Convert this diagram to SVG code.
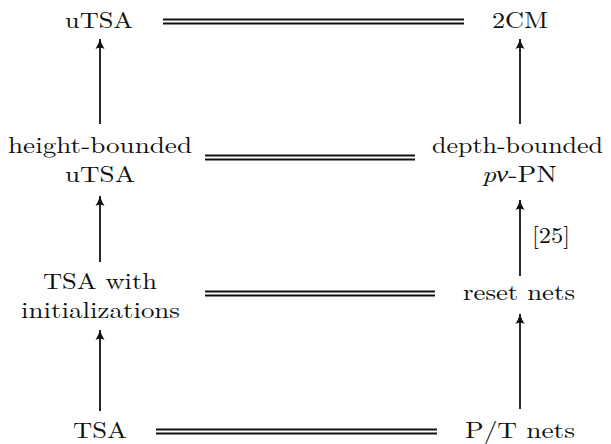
<svg xmlns="http://www.w3.org/2000/svg" width="611" height="444" viewBox="0 0 611 444">
<style>
.t{font-size:22.5px;fill:#111;text-anchor:middle}
.eq line{stroke:#111;stroke-width:1.8}
.arr line{stroke:#111;stroke-width:1.8;marker-end:url(#ah)}
</style>
<defs>
<marker id="ah" markerUnits="userSpaceOnUse" markerWidth="14" markerHeight="12" viewBox="-11 -6 12 12" refX="0" refY="0" orient="auto">
<path d="M0 0 Q-5 -1.5 -10 -4.5 Q-7.5 0 -10 4.5 Q-5 1.5 0 0 Z" fill="#111"/>
</marker>
</defs>
<g id="uTSA"><text class="t" font-family="Latin Modern Roman, Liberation Serif, serif" x="99" y="28" textLength="68" lengthAdjust="spacingAndGlyphs">uTSA</text></g>
<g id="2CM"><text class="t" font-family="Latin Modern Roman, Liberation Serif, serif" x="520" y="28" textLength="56" lengthAdjust="spacingAndGlyphs">2CM</text></g>
<g id="hb-uTSA"><text class="t" font-family="Latin Modern Roman, Liberation Serif, serif" x="100" y="153" textLength="184" lengthAdjust="spacingAndGlyphs">height-bounded</text><text class="t" font-family="Latin Modern Roman, Liberation Serif, serif" x="100" y="182" textLength="70" lengthAdjust="spacingAndGlyphs">uTSA</text></g>
<g id="db-pnuPN"><text class="t" font-family="Latin Modern Roman, Liberation Serif, serif" x="517.5" y="153" textLength="171" lengthAdjust="spacingAndGlyphs">depth-bounded</text><text class="t" font-family="Latin Modern Roman, Liberation Serif, serif" x="519.5" y="182" textLength="75" lengthAdjust="spacingAndGlyphs"><tspan font-style="italic">pν</tspan>-PN</text></g>
<g id="tsa-init"><text class="t" font-family="Latin Modern Roman, Liberation Serif, serif" x="100" y="289" textLength="114" lengthAdjust="spacingAndGlyphs">TSA with</text><text class="t" font-family="Latin Modern Roman, Liberation Serif, serif" x="100.5" y="318" textLength="159" lengthAdjust="spacingAndGlyphs">initializations</text></g>
<g id="reset"><text class="t" font-family="Latin Modern Roman, Liberation Serif, serif" x="519" y="300" textLength="112" lengthAdjust="spacingAndGlyphs">reset nets</text></g>
<g id="TSA"><text class="t" font-family="Latin Modern Roman, Liberation Serif, serif" x="100" y="438" textLength="54" lengthAdjust="spacingAndGlyphs">TSA</text></g>
<g id="PT"><text class="t" font-family="Latin Modern Roman, Liberation Serif, serif" x="520" y="438" textLength="110" lengthAdjust="spacingAndGlyphs">P/T nets</text></g>
<g id="connectors">
<g class="eq">
<line x1="163" y1="19.5" x2="464" y2="19.5"/><line x1="163" y1="23.5" x2="464" y2="23.5"/>
<line x1="205" y1="155.5" x2="415" y2="155.5"/><line x1="205" y1="159.5" x2="415" y2="159.5"/>
<line x1="205" y1="291.5" x2="435" y2="291.5"/><line x1="205" y1="295.5" x2="435" y2="295.5"/>
<line x1="156" y1="429.5" x2="437" y2="429.5"/><line x1="156" y1="433.5" x2="437" y2="433.5"/>
</g>
<g class="arr">
<line x1="100" y1="124" x2="100" y2="39"/>
<line x1="520" y1="124" x2="520" y2="39"/>
<line x1="100" y1="262" x2="100" y2="196"/>
<line x1="520" y1="276" x2="520" y2="200"/>
<line x1="100" y1="411" x2="100" y2="330"/>
<line x1="520" y1="409" x2="520" y2="314"/>
</g>
<text class="t" font-family="Latin Modern Roman, Liberation Serif, serif" x="551" y="243" textLength="38" lengthAdjust="spacingAndGlyphs">[25]</text>
</g>
</svg>
